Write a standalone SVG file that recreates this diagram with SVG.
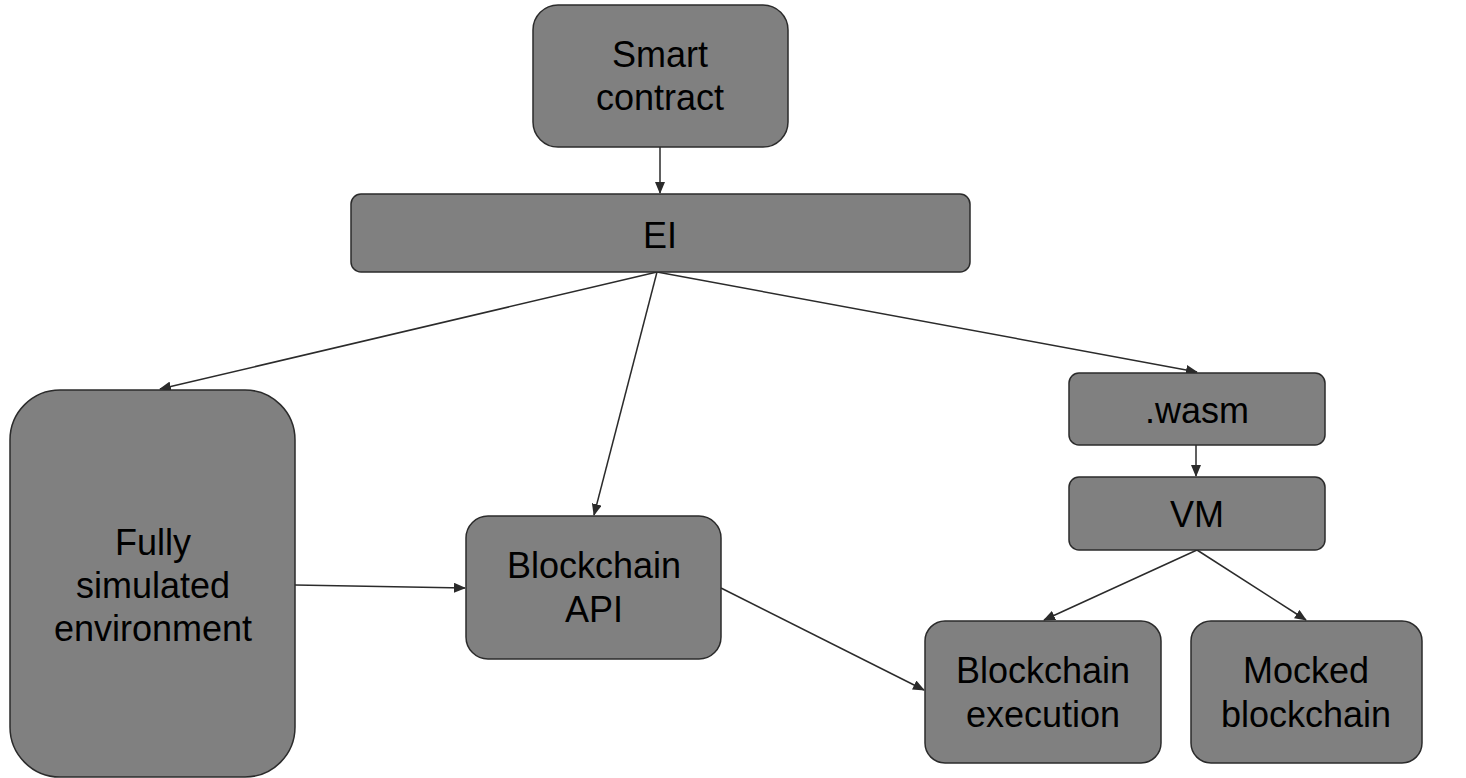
<svg xmlns="http://www.w3.org/2000/svg" width="1466" height="778" viewBox="0 0 1466 778">
<style>
.n{fill:#808080;stroke:#2b2b2b;stroke-width:1.5}
.t{font-family:"Liberation Sans",Arial,sans-serif;font-size:36px;fill:#000;text-anchor:middle}
.c{stroke:#2b2b2b;stroke-width:1.5;fill:none;marker-end:url(#a)}
</style>
<defs>
<marker id="a" markerWidth="12" markerHeight="10" refX="11" refY="5" orient="auto" markerUnits="userSpaceOnUse">
<path d="M0,0 L12,5 L0,10 Z" fill="#2b2b2b"/>
</marker>
</defs>
<rect width="1466" height="778" fill="#fff"/>
<g id="connectors">
<line class="c" x1="660" y1="147" x2="660" y2="193"/>
<line class="c" x1="657" y1="272" x2="160" y2="389"/>
<line class="c" x1="657" y1="272" x2="594" y2="515"/>
<line class="c" x1="657" y1="272" x2="1197" y2="372"/>
<line class="c" x1="1196" y1="445" x2="1196" y2="476"/>
<line class="c" x1="1197" y1="550" x2="1044" y2="620"/>
<line class="c" x1="1197" y1="550" x2="1306" y2="620"/>
<line class="c" x1="295" y1="585" x2="465" y2="588"/>
<line class="c" x1="721" y1="588" x2="924" y2="690"/>
</g>
<g id="smart-contract">
<rect class="n" x="533" y="5" width="255" height="142" rx="25"/>
<text class="t" x="660" y="67">Smart</text>
<text class="t" x="660" y="110">contract</text>
</g>
<g id="ei">
<rect class="n" x="351" y="194" width="619" height="78" rx="10"/>
<text class="t" x="660" y="248">EI</text>
</g>
<g id="fully-simulated">
<rect class="n" x="10" y="390" width="285" height="387" rx="50"/>
<text class="t" x="153" y="555">Fully</text>
<text class="t" x="153" y="598">simulated</text>
<text class="t" x="153" y="641">environment</text>
</g>
<g id="blockchain-api">
<rect class="n" x="466" y="516" width="255" height="143" rx="22"/>
<text class="t" x="594" y="578">Blockchain</text>
<text class="t" x="594" y="622">API</text>
</g>
<g id="wasm">
<rect class="n" x="1069" y="373" width="256" height="72" rx="10"/>
<text class="t" x="1197" y="423">.wasm</text>
</g>
<g id="vm">
<rect class="n" x="1069" y="477" width="256" height="73" rx="10"/>
<text class="t" x="1197" y="527">VM</text>
</g>
<g id="blockchain-execution">
<rect class="n" x="925" y="621" width="236" height="142" rx="20"/>
<text class="t" x="1043" y="683">Blockchain</text>
<text class="t" x="1043" y="727">execution</text>
</g>
<g id="mocked-blockchain">
<rect class="n" x="1191" y="621" width="231" height="142" rx="20"/>
<text class="t" x="1306" y="683">Mocked</text>
<text class="t" x="1306" y="727">blockchain</text>
</g>
</svg>
